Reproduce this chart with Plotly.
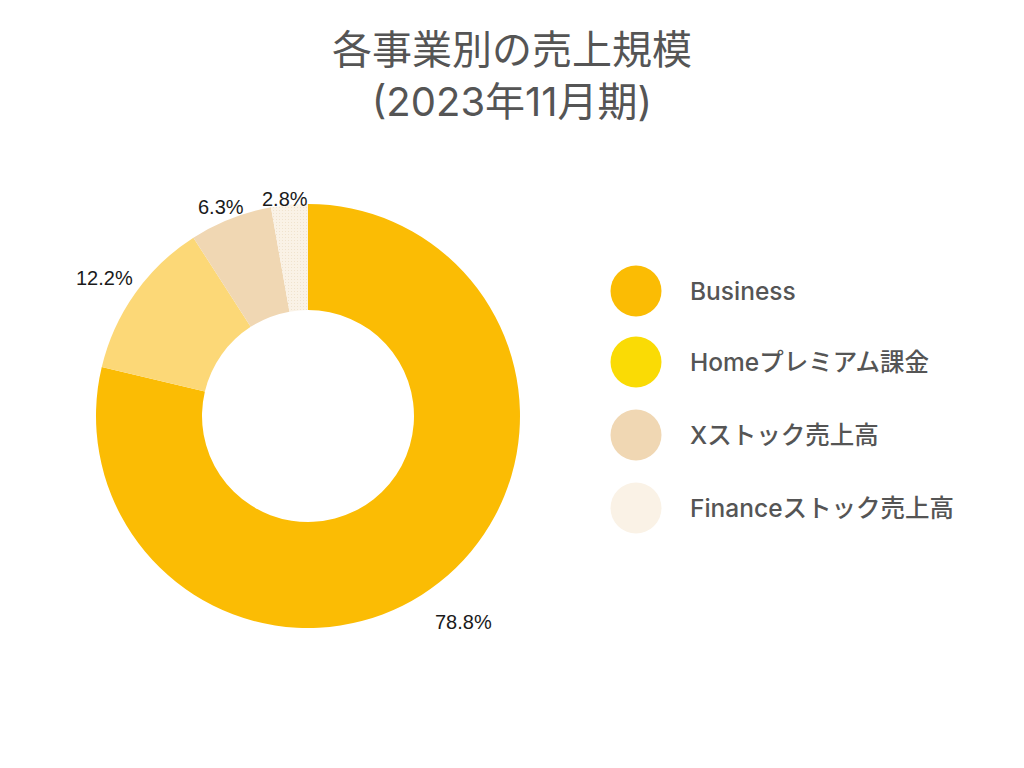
import math
import plotly.graph_objects as go

labels = ["Business", "Homeプレミアム課金", "Xストック売上高", "Financeストック売上高"]
values = [78.8, 12.2, 6.3, 2.8]
slice_colors = ["#FBBC04", "#FCD877", "#F0D7B3", "#FAF2E6"]
legend_colors = ["#FBBC04", "#FADB05", "#F0D7B3", "#FAF2E6"]
title_lines = ["各事業別の売上規模", "(2023年11月期)"]

W, H = 1024, 768
# pie geometry in figure pixels
PCX, PCY, PR = 300, 408, 212
LABEL_GAP, CHAR_W, HALF_H, DOWN_SHIFT = 12.8, 11.4, 7, 12
LABEL_DX, LABEL_DY = -4, 4

fig = go.Figure()
fig.add_trace(go.Pie(
    labels=labels,
    values=values,
    hole=0.5,
    sort=False,
    direction="clockwise",
    rotation=0,
    marker=dict(colors=slice_colors, line=dict(width=0),
                pattern=dict(shape=["", "", "", "."], fgcolor="#E9D8BC",
                             bgcolor=slice_colors, size=3, solidity=0.08)),
    textinfo="none",
    showlegend=False,
    domain=dict(x=[(PCX - PR) / W, (PCX + PR) / W],
                y=[1 - (PCY + PR) / H, 1 - (PCY - PR) / H]),
    hoverinfo="label+percent",
))

# percentage labels placed outside each slice at its mid-angle
total = sum(values)
cum = 0.0
for v in values:
    mid = (cum + v / 2) / total * 2 * math.pi
    cum += v
    txt = f"{v:.1f}%"
    s, c = math.sin(mid), math.cos(mid)
    half_w = len(txt) * CHAR_W / 2
    dist = PR + LABEL_GAP + abs(s) * half_w + abs(c) * HALF_H - DOWN_SHIFT * c
    px = PCX + dist * s + LABEL_DX
    py = PCY - dist * c + LABEL_DY
    fig.add_annotation(x=px / W, y=1 - py / H, xref="paper", yref="paper",
                       text=txt, showarrow=False,
                       xanchor="center", yanchor="middle",
                       font=dict(size=20, color="#1a1a1a",
                                 family="Liberation Sans, Arial, sans-serif"))

# custom legend with circle markers
ys = [283, 354, 427, 500]
cx, r = 628, 25.5
for lab, col, yc in zip(labels, legend_colors, ys):
    fig.add_shape(type="circle", xref="paper", yref="paper",
                  x0=(cx - r) / W, x1=(cx + r) / W,
                  y0=1 - (yc + r) / H, y1=1 - (yc - r) / H,
                  fillcolor=col, line=dict(width=0))
    fig.add_annotation(x=680 / W, y=1 - yc / H, xref="paper", yref="paper",
                       text=lab, showarrow=False, xanchor="left", yanchor="middle",
                       font=dict(size=24.5, color="#555555",
                                 family="Inter, Noto Sans CJK JP", weight=500))

fig.add_annotation(x=504 / W, y=1 - 68 / H, xref="paper", yref="paper",
                   text="<br>".join(title_lines), showarrow=False,
                   xanchor="center", yanchor="middle",
                   font=dict(size=40, color="#555555", family="Inter, Noto Sans CJK JP"))

fig.update_layout(
    width=W, height=H,
    margin=dict(l=0, r=0, t=0, b=0),
    paper_bgcolor="white", plot_bgcolor="white",
)
fig.write_html("out.html")
